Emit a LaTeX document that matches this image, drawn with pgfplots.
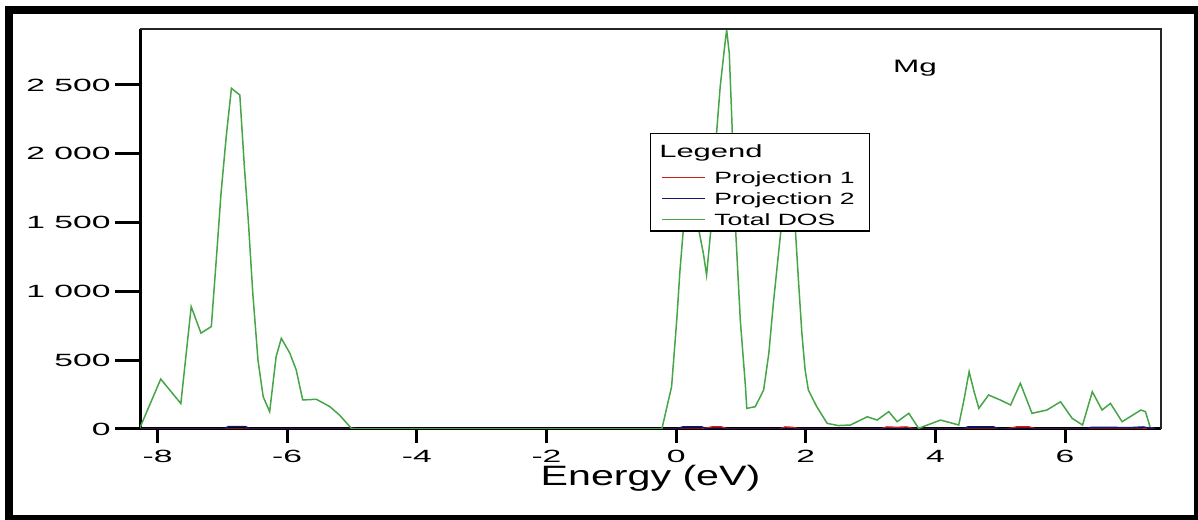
\documentclass[border=0pt]{standalone}
\usepackage{fontspec}
\setmainfont{Liberation Sans}
% the reference is stretched sideways, so are its letters
\newfontfamily\tickfont{Liberation Sans}[FakeStretch=1.9]
\newfontfamily\legfont{Liberation Sans}[FakeStretch=1.63]
\newfontfamily\titlefont{Liberation Sans}[FakeStretch=1.75]
\newfontfamily\labfont{Liberation Sans}[FakeStretch=1.47]
\usepackage{pgfplots}
\usepackage{pgfplotstable}
\pgfplotsset{compat=1.18}

\definecolor{dosgreen}{RGB}{70,165,70}
\definecolor{projred}{RGB}{200,30,30}
\definecolor{projblue}{RGB}{20,20,110}

\pgfplotstableread{
x y
-8.27 10
-7.95 363
-7.64 185
-7.48 889
-7.33 697
-7.17 744
-7.09 1252
-7.02 1713
-6.94 2125
-6.86 2476
-6.73 2427
-6.66 1906
-6.60 1519
-6.53 986
-6.45 501
-6.37 235
-6.27 126
-6.17 526
-6.09 659
-5.96 552
-5.86 429
-5.76 211
-5.55 216
-5.34 162
-5.19 100
-5.01 5
-4.90 0
-0.22 0
-0.07 307
0.01 792
0.06 1155
0.14 1616
0.19 1737
0.32 1519
0.42 1277
0.47 1119
0.55 1519
0.60 2006
0.68 2488
0.76 2827
0.78 2900
0.82 2730
0.86 2245
0.91 1519
0.99 792
1.07 307
1.09 150
1.22 162
1.35 283
1.43 550
1.50 913
1.58 1277
1.66 1640
1.71 1761
1.76 1790
1.82 1600
1.89 1059
1.94 695
1.99 429
2.04 283
2.17 162
2.33 41
2.50 25
2.69 29
2.95 89
3.10 65
3.28 126
3.41 53
3.59 114
3.74 5
4.08 65
4.36 29
4.44 211
4.52 417
4.59 283
4.67 150
4.82 247
5.00 211
5.16 174
5.31 332
5.49 114
5.72 138
5.93 198
6.11 77
6.27 29
6.42 271
6.57 138
6.70 186
6.88 53
7.17 138
7.24 126
7.31 17
}\totaldos

\pgfplotstableread{
x y
-8.27 0
0.40 0
0.55 15
0.70 15
0.80 0
1.60 0
1.68 15
1.80 12
1.90 0
3.15 0
3.25 15
3.40 12
3.55 15
3.70 0
5.10 0
5.25 15
5.45 15
5.55 0
7.20 0
7.30 12
7.40 0
}\projone

\pgfplotstableread{
x y
-8.27 0
-7.00 0
-6.90 18
-6.65 18
-6.55 0
0.00 0
0.10 15
0.40 15
0.48 0
4.40 0
4.50 15
4.90 15
5.00 0
6.30 0
6.40 12
6.70 12
7.00 10
7.20 15
7.40 0
}\projtwo

\pgfplotsset{
  dosframe/.style={
    at={(70pt,45pt)}, anchor=south west,
    scale only axis, width=510.5pt, height=200pt,
    xmin=-8.27, xmax=7.48, ymin=0, ymax=2907,
    axis lines=left,
    axis line style={-, line width=1.5pt, black},
    tick align=outside,
    minor tick num=0,
    scaled ticks=false,
    /pgf/number format/assume math mode=true,
  }
}

\begin{document}
\begin{tikzpicture}
\useasboundingbox (0pt,0pt) rectangle (599pt,259.5pt);

% y axis with its long ticks
\begin{axis}[dosframe,
  hide x axis,
  ytick={0,500,...,2500},
  major tick length=12.5pt,
  ytick style={line width=1.5pt, black},
  yticklabel style={font=\fontsize{8.85}{10}\tickfont, inner sep=2pt},
  /pgf/number format/1000 sep={\ },
]
\end{axis}

\begin{axis}[dosframe,
  name=main,
  hide y axis,
  xtick={-8,-6,...,6},
  major tick length=7pt,
  xtick style={line width=1.5pt, black},
  xticklabel style={font=\fontsize{8.85}{10}\tickfont},
  xlabel={Energy (eV)},
  xlabel style={font=\fontsize{14}{16}\labfont, at={(axis description cs:0.5,0)}, anchor=center, yshift=-24.5pt},
  legend cell align=left,
  legend image code/.code={\draw[line width=0.8pt, #1] (0pt,0pt) -- (21.5pt,0pt);},
  legend style={at={(0.4995,0.74)}, anchor=north west, draw, line width=0.7pt,
    inner xsep=5.5pt, inner ysep=0.5pt, column sep=2pt, row sep=0pt,
    nodes={inner xsep=2pt, inner ysep=0pt, text height=8.2pt, text depth=2.3pt},
    font=\fontsize{8.15}{9}\legfont},
]
\addlegendimage{empty legend}
\addlegendentry[text height=11.35pt, text depth=4.9pt]{\hspace*{-27.5pt}\fontsize{8.85}{10}\titlefont Legend}
\addplot[color=projred, line width=0.7pt] table[x=x, y=y] {\projone};
\addlegendentry{Projection 1}
\addplot[color=projblue, line width=0.7pt] table[x=x, y=y] {\projtwo};
\addlegendentry{Projection 2}
\addplot[color=dosgreen, line width=0.75pt] table[x=x, y=y] {\totaldos};
\addlegendentry{Total DOS}
\node[font=\fontsize{9}{10}\titlefont] at (rel axis cs:0.759,0.9025) {Mg};
\end{axis}

\draw[line width=0.6pt, black!85] (main.north west) -- (main.north east) -- (main.south east);
\draw[line width=4pt] (4.5pt,0pt) rectangle (599pt,254.5pt);
\end{tikzpicture}
\end{document}
